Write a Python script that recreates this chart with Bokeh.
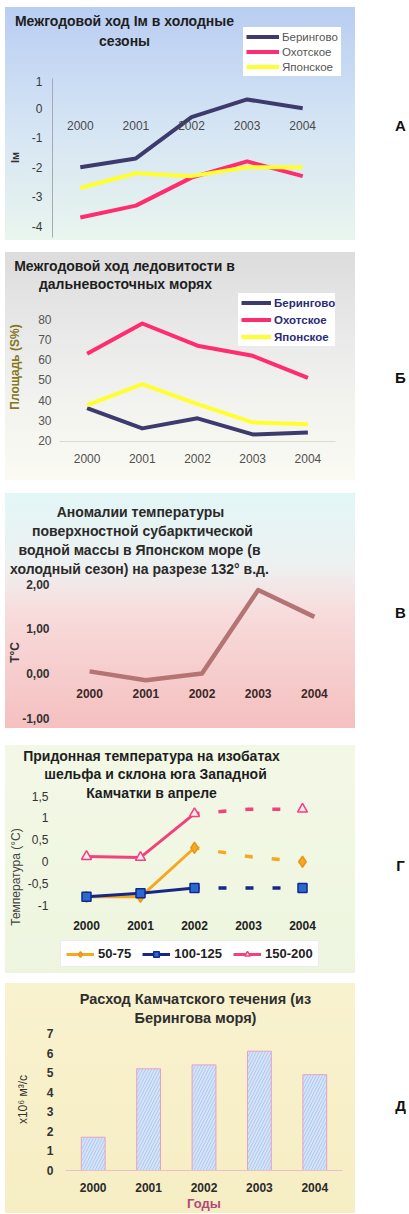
from bokeh.plotting import figure
from bokeh.models import (ColumnDataSource, FixedTicker, Label, Legend, LegendItem,
                          Spacer, Range1d, FactorRange)
from bokeh.layouts import column, row
from bokeh.embed import file_html
from bokeh.resources import INLINE
from bokeh.core.properties import value

FONT = "Liberation Sans"

# ---------------- data ----------------
years = ["2000", "2001", "2002", "2003", "2004"]

# A: Im in cold seasons
im_bering = [-2.0, -1.7, -0.3, 0.3, 0.0]
im_okhotsk = [-3.7, -3.3, -2.35, -1.8, -2.3]
im_japan = [-2.7, -2.2, -2.3, -2.0, -2.0]
im_ticks = [-4, -3, -2, -1, 0, 1]
im_tick_labels = ["-4", "-3", "-2", "-1", "0", "1"]
sea_names = ["Берингово", "Охотское", "Японское"]

# Б: ice cover, %
ice_bering = [36, 26, 31, 23, 24]
ice_okhotsk = [63, 78, 67, 62, 51]
ice_japan = [37.5, 48, 38, 29, 28]
ice_ticks = [20, 30, 40, 50, 60, 70, 80]

# В: temperature anomaly
anom = [0.05, -0.15, 0.0, 1.87, 1.27]
anom_ticks = [-1, 0, 1, 2]
anom_tick_labels = ["-1,00", "0,00", "1,00", "2,00"]

# Г: bottom temperature on isobaths
t_50_75 = [-0.8, -0.8, 0.32, 0.12, 0.0]
t_100_125 = [-0.8, -0.72, -0.6, -0.6, -0.6]
t_150_200 = [0.12, 0.1, 1.1, 1.2, 1.2]
bt_ticks = [-1, -0.5, 0, 0.5, 1, 1.5]
bt_tick_labels = ["-1", "-0,5", "0", "0,5", "1", "1,5"]
bt_names = ["50-75", "100-125", "150-200"]

# Д: Kamchatka current discharge
flow = [1.7, 5.2, 5.4, 6.1, 4.9]
flow_ticks = [0, 1, 2, 3, 4, 5, 6, 7]

W = 350      # panel width
LW = 53      # letter column width
LEFT = 5     # white margin left of panels
TFS = "14px"  # title font size

SEA_COLORS = ["#3d3b6e", "#ff2d6f", "#ffff30"]


def mix(c1, c2, t):
    a = [int(c1[i:i + 2], 16) for i in (1, 3, 5)]
    b = [int(c2[i:i + 2], 16) for i in (1, 3, 5)]
    return "#%02x%02x%02x" % tuple(round(a[k] + (b[k] - a[k]) * t) for k in range(3))


def grad_color(stops, t):
    t = min(max(t, 0), 1)
    for (p0, c0), (p1, c1) in zip(stops[:-1], stops[1:]):
        if p0 <= t <= p1:
            return mix(c0, c1, (t - p0) / (p1 - p0) if p1 > p0 else 0)
    return stops[-1][1]


def css_bg(stops, top, H, y0, y1, n=8):
    parts = []
    for k in range(n + 1):
        y = y0 + (y1 - y0) * k / n
        parts.append("%s %.1f%%" % (grad_color(stops, (y - top) / H), 100 * k / n))
    return {"background": "linear-gradient(to bottom, " + ", ".join(parts) + ")"}


def no_align(p):
    try:
        p.frame_align = False
    except Exception:
        pass


def blank_fig(w, h, styles=None):
    q = figure(width=w, height=h, x_range=Range1d(0, 1), y_range=Range1d(0, 1),
               output_backend="svg", toolbar_location=None,
               x_axis_location=None, y_axis_location=None, min_border=0,
               styles=styles or {})
    q.outline_line_color = None
    q.grid.visible = False
    q.background_fill_color = None
    q.border_fill_color = None
    no_align(q)
    return q


def chart_fig(H, fl, fr, ft, fb, yr, styles, x_axis=True):
    p = figure(width=W, height=H, x_range=FactorRange(factors=years),
               y_range=Range1d(*yr), output_backend="svg", toolbar_location=None,
               x_axis_location="below" if x_axis else None,
               min_border_left=fl, min_border_right=fr,
               min_border_top=ft, min_border_bottom=fb, styles=styles)
    p.outline_line_color = None
    p.grid.visible = False
    p.background_fill_color = None
    p.border_fill_color = None
    no_align(p)
    return p


def add_text(p, text, x, y, size=TFS, color="#1e1e1e", bold=True):
    p.add_layout(Label(x=x, y=y, x_units="screen", y_units="screen", text=text,
                       text_align="center", text_baseline="middle",
                       text_font=FONT, text_font_style="bold" if bold else "normal",
                       text_font_size=size, text_color=color))


def style_y(p, ticks, labels, size, bold, color, standoff, axis_label,
            al_size, al_bold, al_color, al_standoff, line_color=None):
    ax = p.yaxis[0]
    ax.ticker = FixedTicker(ticks=ticks)
    if labels is not None:
        ax.major_label_overrides = {t: l for t, l in zip(ticks, labels)}
    ax.major_label_text_font = FONT
    ax.major_label_text_font_size = size
    ax.major_label_text_font_style = "bold" if bold else "normal"
    ax.major_label_text_color = color
    ax.major_label_standoff = standoff
    ax.major_tick_line_color = None
    ax.minor_tick_line_color = None
    ax.major_tick_out = 0
    ax.major_tick_in = 0
    ax.axis_line_color = line_color
    ax.axis_label = axis_label
    ax.axis_label_text_font = FONT
    ax.axis_label_text_font_size = al_size
    ax.axis_label_text_font_style = "bold" if al_bold else "normal"
    ax.axis_label_text_color = al_color
    ax.axis_label_standoff = al_standoff


def style_x(p, size, bold, color, standoff, line_color=None):
    ax = p.xaxis[0]
    ax.major_label_text_font = FONT
    ax.major_label_text_font_size = size
    ax.major_label_text_font_style = "bold" if bold else "normal"
    ax.major_label_text_color = color
    ax.major_label_standoff = standoff
    ax.major_tick_line_color = None
    ax.major_tick_out = 0
    ax.major_tick_in = 0
    ax.axis_line_color = line_color


def year_labels(p, base, size, bold, color, offset):
    src = ColumnDataSource(dict(x=years, y=[base] * len(years), t=years))
    p.text(x="x", y="y", text="t", source=src, y_offset=offset,
           text_align="center", text_baseline="middle",
           text_font=value(FONT), text_font_size=size,
           text_font_style="bold" if bold else "normal", text_color=color)


def letter_fig(H, letter, from_top):
    q = blank_fig(LW, H)
    q.border_fill_color = "white"
    add_text(q, letter, 45, H - from_top, size="15px", color="#111111")
    return q


def sea_legend(renderers, loc, size, bold, color, gw, h, spacing, padding):
    return Legend(items=[LegendItem(label=n, renderers=[r]) for n, r in zip(sea_names, renderers)],
                  location=loc, label_text_font=FONT, label_text_font_size=size,
                  label_text_font_style="bold" if bold else "normal",
                  label_text_color=color, glyph_width=gw, glyph_height=h,
                  label_height=h, label_standoff=3, spacing=spacing,
                  padding=padding, margin=0, border_line_alpha=0,
                  background_fill_color="white", background_fill_alpha=1)


NAN = float("nan")

# ---------------- Panel A ----------------
topA, HA, tH = 7, 233, 69
stA = [(0, "#b9cdf2"), (0.45, "#d2e2f4"), (1, "#e9f5ee")]
tA = blank_fig(W, tH, css_bg(stA, topA, HA, topA, topA + tH))
cA = chart_fig(HA - tH, 43, 25, 1, 3, (-4.38, 1.044),
               css_bg(stA, topA, HA, topA + tH, topA + HA), x_axis=False)
for vals, col in zip([im_bering, im_okhotsk, im_japan], SEA_COLORS):
    cA.line(years, vals, line_color=col, line_width=4, line_join="round")
year_labels(cA, 0, "12px", False, "#4a4a4a", 17)
style_y(cA, im_ticks, im_tick_labels, "12px", False, "#3a3a3a", 10,
        "Iм", "11px", True, "#333333", 8, line_color="#a8a8b8")
cA.yaxis[0].bounds = (-4.38, 1.0)
add_text(tA, "Межгодовой ход Iм в холодные", 119, 56)
add_text(tA, "сезоны", 119, 36)
# legend swatches (legend box lies in the title strip, above the chart frame)
proxA = [tA.line([NAN], [NAN], line_color=c, line_width=4) for c in SEA_COLORS]
tA.add_layout(sea_legend(proxA, (238, 0), "11.5px", False, "#555555", 33, 13, 2, 3))

# ---------------- Panel Б ----------------
topB, HB, tH = 252, 228, 40
stB = [(0, "#dcdcdc"), (0.4, "#ebebeb"), (1, "#fbfbf3")]
tB = blank_fig(W, tH, css_bg(stB, topB, HB, topB, topB + tH))
cB = chart_fig(HB - tH, 50, 20, 0, 39, (19.5, 93.37),
               css_bg(stB, topB, HB, topB + tH, topB + HB))
rB = [cB.line(years, vals, line_color=col, line_width=4, line_join="round")
      for vals, col in zip([ice_bering, ice_okhotsk, ice_japan], SEA_COLORS)]
style_x(cB, "12px", False, "#505050", 12, line_color="#dcdccc")
style_y(cB, ice_ticks, None, "12px", False, "#555555", 8,
        "Площадь (S%)", "12px", True, "#857620", 13)
add_text(tB, "Межгодовой ход ледовитости в", 119, 27)
add_text(tB, "дальневосточных морях", 120, 9)
cB.add_layout(sea_legend(rB, (179, 95), "11.5px", True, "#2b2b7a", 30, 13, 4, 3))

# ---------------- Panel В ----------------
topV, HV, tH = 493, 235, 84
stV = [(0, "#e3f6f6"), (0.3, "#edf1f1"), (0.5, "#f8dcdc"), (1, "#f5c0c0")]
tV = blank_fig(W, tH, css_bg(stV, topV, HV, topV, topV + tH))
cV = chart_fig(HV - tH, 54, 13, 2, 3, (-1.162, 2.106),
               css_bg(stV, topV, HV, topV + tH, topV + HV), x_axis=False)
cV.line(years, anom, line_color="#b47474", line_width=4.5, line_join="round")
year_labels(cV, 0, "12px", True, "#3c2828", 20)
style_y(cV, anom_ticks, anom_tick_labels, "12px", True, "#333333", 12,
        "T°C", "12px", True, "#333333", -3)
add_text(tV, "Аномалии температуры", 135, 66, color="#2a2a2a")
add_text(tV, "поверхностной субарктической", 137, 47, color="#2a2a2a")
add_text(tV, "водной массы в Японском море (в", 134, 28, color="#2a2a2a")
add_text(tV, "холодный сезон) на разрезе 132° в.д.", 134, 9, color="#2a2a2a")

# ---------------- Panel Г ----------------
topG, HG, tH = 745, 228, 37
stG = [(0, "#f3f8e6"), (1, "#edf5df")]
tG = blank_fig(W, tH, css_bg(stG, topG, HG, topG, topG + tH))
cG = chart_fig(HG - tH, 54, 26, 0, 2, (-2.505, 1.81),
               css_bg(stG, topG, HG, topG + tH, topG + HG), x_axis=False)
series = [(t_50_75, "#f8a820", "diamond", 11, "#f8a820", "#e8961a"),
          (t_100_125, "#15288a", "square", 9, "#2a6ad0", "#15288a"),
          (t_150_200, "#f2417c", "triangle", 10, "#fde6ef", "#f2417c")]
items = []
mark_idx = [0, 1, 2, 4]
for (vals, col, mk, sz, fc, lc), name in zip(series, bt_names):
    rl = cG.line(years[:3], vals[:3], line_color=col, line_width=3, line_join="round")
    cG.line(years[2:], vals[2:], line_color=col, line_width=3.5,
            line_dash="8 19", line_dash_offset=3)
    rs = cG.scatter([years[i] for i in mark_idx], [vals[i] for i in mark_idx],
                    marker=mk, size=sz, fill_color=fc, line_color=lc, line_width=1.5)
    items.append(LegendItem(label=name, renderers=[rl, rs]))
year_labels(cG, bt_ticks[0], "12px", True, "#222222", 20)
style_y(cG, bt_ticks, bt_tick_labels, "12px", False, "#333333", 11,
        "Температура (°C)", "12px", False, "#444444", 2)
cG.yaxis[0].bounds = (-1.066, 1.81)
add_text(tG, "Придонная температура на изобатах", 146, 27)
add_text(tG, "шельфа и склона юга Западной", 150, 9)
add_text(cG, "Камчатки в апреле", 92, 179)
cG.add_layout(Legend(items=items, location=(1, 4), orientation="horizontal",
                     label_text_font=FONT, label_text_font_size="13px",
                     label_text_font_style="bold", label_text_color="#222222",
                     glyph_width=28, glyph_height=14, label_height=14,
                     label_standoff=4, spacing=11, padding=5, margin=0,
                     border_line_color="#e4e4e4", border_line_alpha=0.7,
                     background_fill_color="white", background_fill_alpha=1))

# ---------------- Panel Д ----------------
topD, HD, tH = 983, 230, 44
stD = [(0, "#f9f2cf"), (1, "#f6edc3")]
tD = blank_fig(W, tH, css_bg(stD, topD, HD, topD, topD + tH))
cD = chart_fig(HD - tH, 60, 13, 1, 42, (0, 7.26),
               css_bg(stD, topD, HD, topD + tH, topD + HD))
cD.vbar(x=years, top=flow, width=0.43, fill_color="#d4e3f8",
        line_color="#e6a0c8", line_width=1,
        hatch_pattern="right_diagonal_line", hatch_color="#a9c3ee",
        hatch_alpha=0.8, hatch_scale=6, hatch_weight=1)
style_x(cD, "12px", True, "#2a2a2a", 12, line_color="#e8c0c8")
cD.xaxis[0].axis_label = "Годы"
cD.xaxis[0].axis_label_text_font = FONT
cD.xaxis[0].axis_label_text_font_size = "13px"
cD.xaxis[0].axis_label_text_font_style = "bold"
cD.xaxis[0].axis_label_text_color = "#b0487a"
cD.xaxis[0].axis_label_standoff = 1
style_y(cD, flow_ticks, None, "12px", True, "#333333", 12,
        "x10⁶ м³/с", "12px", False, "#333333", 14)
add_text(tD, "Расход Камчатского течения (из", 190, 29, size="14.5px", color="#2e2e2e")
add_text(tD, "Берингова моря)", 190, 10, size="14.5px", color="#2e2e2e")


# ---------------- layout ----------------
def panel_row(t, c, H, letter, from_top):
    return row(Spacer(width=LEFT, height=H), column(t, c), letter_fig(H, letter, from_top))


TW = LEFT + W + LW
layout = column(
    Spacer(width=TW, height=7),
    panel_row(tA, cA, HA, "А", 118),
    Spacer(width=TW, height=12),
    panel_row(tB, cB, HB, "Б", 125),
    Spacer(width=TW, height=13),
    panel_row(tV, cV, HV, "В", 119),
    Spacer(width=TW, height=17),
    panel_row(tG, cG, HG, "Г", 120),
    Spacer(width=TW, height=10),
    panel_row(tD, cD, HD, "Д", 122),
)

open("out.html", "w").write(file_html(layout, INLINE))
